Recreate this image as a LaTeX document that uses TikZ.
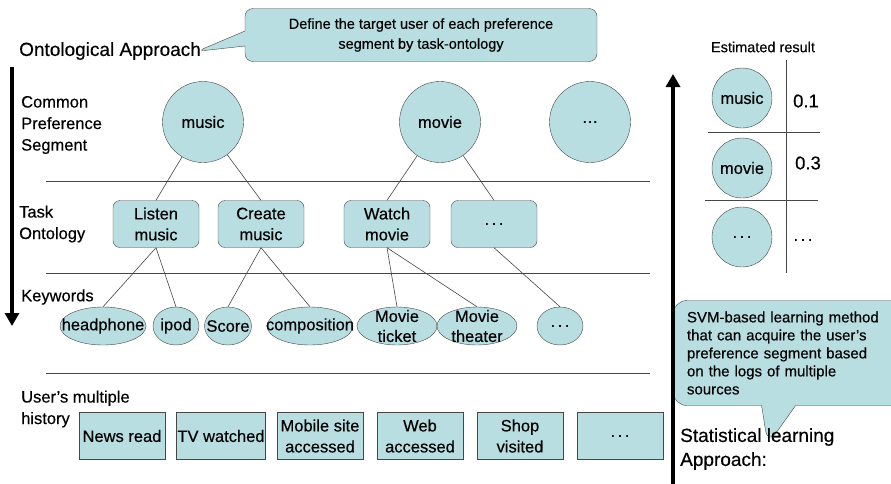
\documentclass[tikz,border=0pt]{standalone}
\usepackage{fontspec}
\setmainfont{Liberation Sans}[FakeBold=0.35]
\usetikzlibrary{shapes.geometric, shapes.callouts, arrows.meta}
\definecolor{paleblue}{RGB}{184,222,226}
\definecolor{edgegray}{RGB}{70,70,70}
\newcommand{\etc}{.\kern2.5pt.\kern2.5pt.}

\begin{document}
\begin{tikzpicture}[x=1pt, y=-1pt,
    txt/.style={font=\fontsize{16.5}{21.5}\selectfont, align=left, inner sep=0pt},
    big/.style={font=\fontsize{19}{24}\selectfont, align=left, inner sep=0pt},
    seg/.style={circle, draw=edgegray, fill=paleblue, minimum size=#1, inner sep=0pt, font=\fontsize{16.5}{20}\selectfont},
    task/.style={draw=edgegray, fill=paleblue, rounded corners=7pt, minimum width=86pt, minimum height=47pt, inner sep=1pt, align=center, font=\fontsize{16.5}{21}\selectfont},
    kw/.style={ellipse, draw=edgegray, fill=paleblue, minimum width=#1, minimum height=38pt, inner sep=0pt},
    kwtext/.style={font=\fontsize{16.5}{20}\selectfont, align=center, inner sep=0pt},
    hist/.style={draw=edgegray, fill=paleblue, minimum width=86pt, minimum height=47pt, inner sep=1pt, align=center, font=\fontsize{16.5}{21}\selectfont},
    link/.style={draw=edgegray, line width=0.6pt},
    sep/.style={draw=edgegray, line width=0.9pt},
    flow/.style={line width=4.5pt, -{Triangle[width=14pt,length=13pt]}},
    note/.style={rectangle callout, draw=edgegray, fill=paleblue, inner sep=0pt}]
    \useasboundingbox (0,0) rectangle (891,483);

    % ontological side
    \node[big, anchor=west] (title) at (19,51) {Ontological Approach};
    \node[note, rounded corners=8pt, minimum width=352pt, minimum height=53pt, callout pointer width=15pt,
        callout absolute pointer={(title.east)}, callout pointer shorten=-4pt, align=center, font=\fontsize{14.5}{20}\selectfont]
        (defnote) at (421,35) {Define the target user of each preference\\segment by task-ontology};

    \coordinate (ontotop) at (12,67);
    \coordinate (ontobot) at (12,326);
    \draw[flow] (ontotop) -- (ontobot);

    \node[txt, anchor=west] (seglbl) at (21,125) {Common\\Preference\\Segment};
    \node[txt, anchor=west] (tasklbl) at (19,224) {Task\\Ontology};
    \node[txt, anchor=west] (kwlbl) at (21,297) {Keywords};
    \node[txt, anchor=west] (histlbl) at (21,409) {User's multiple\\history};

    \draw[sep] (46,181) -- (650,181);
    \draw[sep] (46,273) -- (650,273);
    \draw[sep] (46,373) -- (650,373);

    % preference segments
    \node[seg=81pt] (music) at (203,122) {music};
    \node[seg=81pt] (movie) at (440,122) {movie};
    \node[seg=81pt] (segdots) at (590,122) {…};

    % task ontology
    \node[task] (listen) at (156,224) {Listen\\music};
    \node[task] (create) at (261,224) {Create\\music};
    \node[task] (watch) at (387,224) {Watch\\movie};
    \node[task] (taskdots) at (494,224) {\etc};

    % keywords
    \node[kw=86pt, label={[kwtext]center:headphone}] (headphone) at (103,326) {};
    \node[kw=46pt, label={[kwtext]center:ipod}] (ipod) at (176,326) {};
    \node[kw=47pt, label={[kwtext]center:Score}] (score) at (228,326) {};
    \node[kw=86pt, label={[kwtext]center:composition}] (composition) at (310,326) {};
    \node[kw=80pt, label={[kwtext]center:{Movie\\ticket}}] (ticket) at (397,326) {};
    \node[kw=80pt, label={[kwtext]center:{Movie\\theater}}] (theater) at (477,326) {};
    \node[kw=46pt, label={[kwtext]center:\etc}] (kwdots) at (560,326) {};

    \draw[link] (music) -- (listen.north);
    \draw[link] (music) -- (create.north);
    \draw[link] (movie) -- (watch.north);
    \draw[link] (movie) -- (taskdots.north);
    \draw[link] (listen.south) -- (headphone.north);
    \draw[link] (listen.south) -- (ipod.north);
    \draw[link] (create.south) -- (score.north);
    \draw[link] (create.south) -- (composition.north);
    \draw[link] (watch.south) -- (ticket.north);
    \draw[link] (watch.south) -- (theater.north);
    \draw[link] (taskdots.south) -- (kwdots.north);

    % user history
    \node[hist] (news) at (122,436) {News read};
    \node[hist] (tv) at (221,436) {TV watched};
    \node[hist] (mobile) at (320,436) {Mobile site\\accessed};
    \node[hist] (web) at (420,436) {Web\\accessed};
    \node[hist] (shop) at (520,436) {Shop\\visited};
    \node[hist] (histdots) at (620,436) {\etc};

    % statistical side
    \node[note, rounded corners=14pt, minimum width=240pt, minimum height=105pt, callout pointer width=34pt,
        callout absolute pointer={(771,433)}, callout pointer shorten=-12pt, text width=212pt, align=left, font=\fontsize{15}{18}\selectfont]
        (svmnote) at (793,353) {SVM-based learning method\\that can acquire the user's\\preference segment based\\on the logs of multiple\\sources};
    \node[big, anchor=west] (statlbl) at (680,449) {Statistical learning\\Approach:};

    \coordinate (statbot) at (673,484);
    \coordinate (stattop) at (673,74);
    \draw[flow] (statbot) -- (stattop);

    % estimated result table
    \node[font=\fontsize{14.5}{17}\selectfont] (estlbl) at (763,47) {Estimated result};
    \node[seg=60pt] (rmusic) at (742,98) {music};
    \node[seg=60pt] (rmovie) at (742,168) {movie};
    \node[seg=60pt] (rdots) at (742,237) {\etc};
    \node[font=\fontsize{18.5}{20}\selectfont] (v1) at (806,101) {0.1};
    \node[font=\fontsize{18.5}{20}\selectfont] (v2) at (808,163) {0.3};
    \node[font=\fontsize{16.5}{20}\selectfont] (v3) at (803,240) {\etc};
    \draw[sep, line width=0.7pt] (786,60) -- (786,273);
    \draw[sep, line width=0.7pt] (708,132) -- (820,132);
    \draw[sep, line width=0.7pt] (705,200) -- (818,200);
\end{tikzpicture}
\end{document}
